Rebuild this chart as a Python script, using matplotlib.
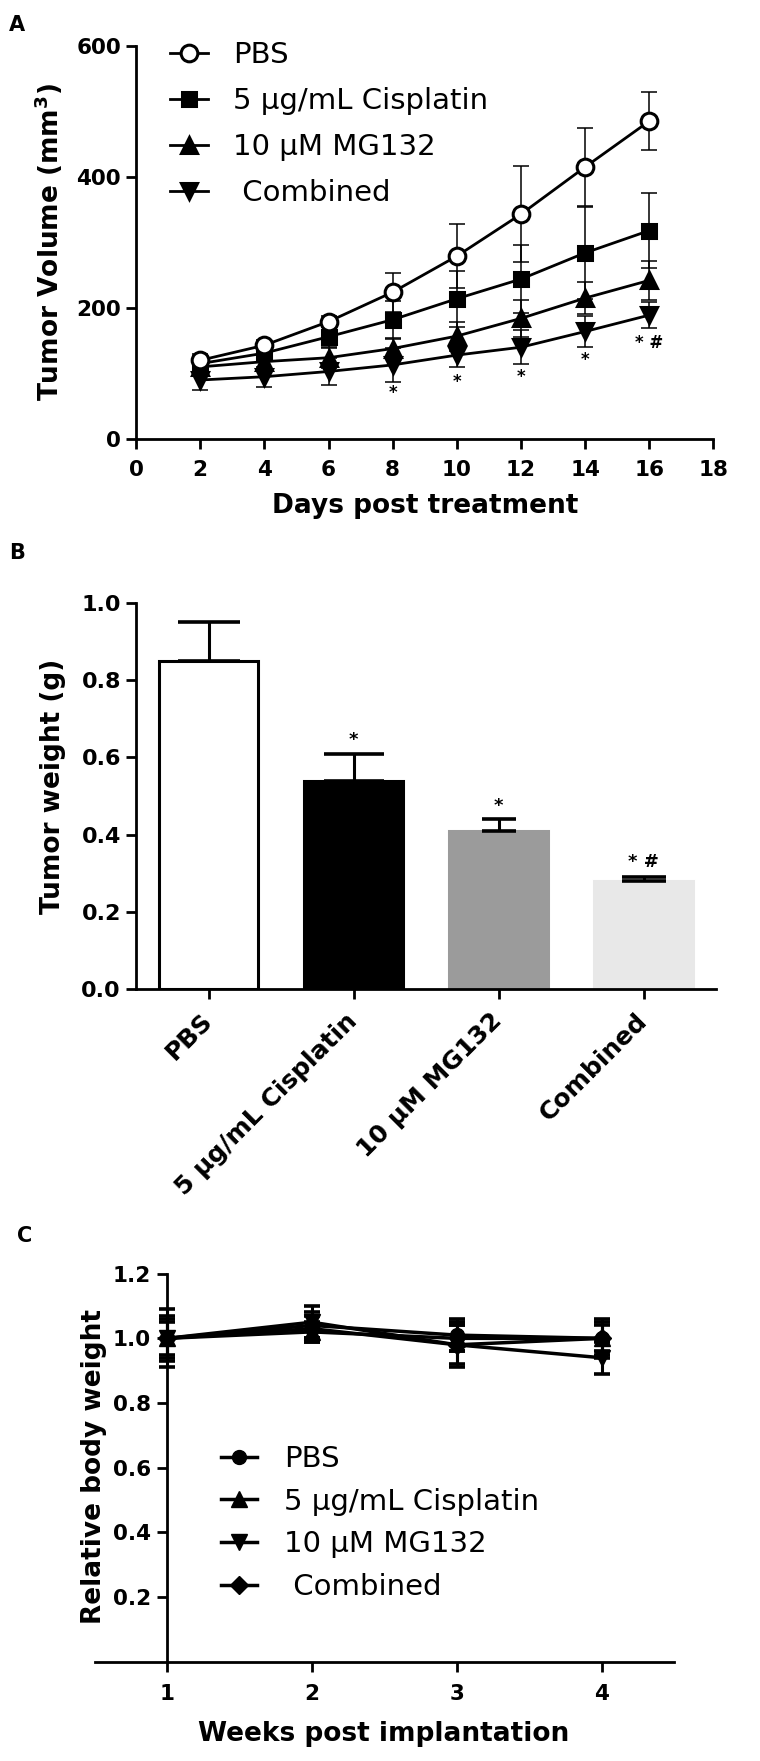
import matplotlib
matplotlib.use("Agg")
import matplotlib.pyplot as plt
from matplotlib.ticker import FormatStrFormatter

# ---------------- data ----------------
days = [2, 4, 6, 8, 10, 12, 14, 16]
groups_legend = ["PBS", "5 µg/mL Cisplatin", "10 µM MG132", " Combined"]
groups_bar = ["PBS", "5 µg/mL Cisplatin", "10 µM MG132", "Combined"]

vol_pbs = [120, 143, 179, 224, 279, 343, 415, 485]
vol_pbs_err = [10, 8, 8, 30, 49, 73, 60, 44]
vol_cis = [115, 131, 156, 182, 214, 244, 284, 318]
vol_cis_err = [12, 12, 15, 28, 43, 52, 70, 57]
vol_mg = [110, 118, 124, 138, 157, 184, 215, 242]
vol_mg_err = [10, 12, 15, 15, 22, 28, 24, 30]
vol_comb = [90, 95, 103, 113, 128, 140, 164, 189]
vol_comb_err = [15, 15, 20, 26, 18, 26, 24, 20]

sig_days = [8, 10, 12, 14, 16]
sig_vol = [70, 87, 95, 120, 147]
sig_text = ["*", "*", "*", "*", "* #"]

weight_vals = [0.85, 0.54, 0.41, 0.28]
weight_err = [0.10, 0.07, 0.03, 0.01]
weight_sig_y = [None, 0.645, 0.474, 0.33]
weight_sig_text = ["", "*", "*", "* #"]

weeks = [1, 2, 3, 4]
bw_pbs = [1.00, 1.04, 1.01, 1.00]
bw_pbs_err = [0.07, 0.04, 0.05, 0.05]
bw_cis = [1.00, 1.02, 1.00, 1.00]
bw_cis_err = [0.05, 0.03, 0.04, 0.04]
bw_mg = [1.00, 1.05, 0.98, 0.94]
bw_mg_err = [0.09, 0.05, 0.07, 0.05]
bw_comb = [1.00, 1.03, 0.98, 1.00]
bw_comb_err = [0.06, 0.04, 0.06, 0.06]

# ---------------- style ----------------
plt.rcParams["font.family"] = ["DejaVu Sans"]
plt.rcParams["font.weight"] = "bold"
plt.rcParams["axes.labelweight"] = "bold"
plt.rcParams["mathtext.fontset"] = "dejavusans"

W, H = 760, 1761
fig = plt.figure(figsize=(W / 100, H / 100), dpi=100)


def rect(x0, y_top, x1, y_bot):
    return [x0 / W, 1 - y_bot / H, (x1 - x0) / W, (y_bot - y_top) / H]


def ftext(x, y, s, **kw):
    fig.text(x / W, 1 - y / H, s, ha="center", va="center", **kw)


def style_axes(ax, ysize=15.5, xsize=15.5):
    for s in ["top", "right"]:
        ax.spines[s].set_visible(False)
    for s in ["left", "bottom"]:
        ax.spines[s].set_linewidth(2)
    ax.tick_params(axis="both", direction="out", length=7.2, width=2, color="black")
    ax.tick_params(axis="y", labelsize=ysize, pad=3.6)
    ax.tick_params(axis="x", labelsize=xsize, pad=8)


LEG_PROP = {"size": 21, "weight": "normal"}

# ---------------- Panel A ----------------
axA = fig.add_axes(rect(136, 45.7, 713.5, 439))
style_axes(axA)
axA.set_xlim(0, 18)
axA.set_ylim(0, 600)
axA.set_xticks(range(0, 19, 2))
axA.set_yticks([0, 200, 400, 600])

series_a = [(vol_pbs, vol_pbs_err), (vol_cis, vol_cis_err),
            (vol_mg, vol_mg_err), (vol_comb, vol_comb_err)]
markers_a = ["o", "s", "^", "v"]
msizes_a = [12, 10.5, 11, 11]
handles_a = []
for i, ((vals, errs), m) in enumerate(zip(series_a, markers_a)):
    axA.errorbar(days, vals, yerr=errs, fmt="none", ecolor="black",
                 elinewidth=1.1, capsize=6, capthick=1.1, zorder=2)
    ln, = axA.plot(days, vals, color="black", lw=2, marker=m, ms=msizes_a[i],
                   mfc="white" if i == 0 else "black", mec="black", mew=2.2,
                   zorder=6 - i, clip_on=False)
    handles_a.append(ln)
for d, v, t in zip(sig_days, sig_vol, sig_text):
    axA.text(d, v, t, ha="center", va="center", fontsize=12, fontweight="bold")

axA.legend(handles_a, groups_legend, loc="upper left",
           bbox_to_anchor=((170 - 136) / 577.5, (439 - 41) / 393.3),
           frameon=False, borderpad=0, borderaxespad=0, handlelength=1.3,
           handletextpad=0.85, labelspacing=0.62, prop=LEG_PROP)

ftext(48.5, 242, r"Tumor Volume (mm$^{\mathbf{3}}$)", rotation=90,
      fontsize=19, fontweight="bold")
ftext(425, 506, "Days post treatment", fontsize=19, fontweight="bold")
ftext(17, 25, "A", fontsize=15, fontweight="bold")

# ---------------- Panel B ----------------
axB = fig.add_axes(rect(136, 603, 716, 989))
style_axes(axB, ysize=16)
axB.set_xlim(-0.5, 3.5)
axB.set_ylim(0, 1.0)
axB.set_yticks([0, 0.2, 0.4, 0.6, 0.8, 1.0])
axB.yaxis.set_major_formatter(FormatStrFormatter("%.1f"))
xb = list(range(len(groups_bar)))
bar_colors = ["white", "black", "#9b9b9b", "#e8e8e8"]
edge_colors = ["black", "black", "#9b9b9b", "#e8e8e8"]
axB.bar(xb, weight_vals, width=0.68, color=bar_colors, edgecolor=edge_colors,
        linewidth=2.2, zorder=2)
caps_b = [22.5, 21.5, 12, 16]
for i in xb:
    axB.errorbar(xb[i], weight_vals[i], yerr=[[0], [weight_err[i]]], fmt="none",
                 ecolor="black", elinewidth=2.2, capsize=caps_b[i], capthick=2.6,
                 zorder=3)
    if weight_sig_y[i] is not None:
        axB.text(xb[i], weight_sig_y[i], weight_sig_text[i], ha="center",
                 va="center", fontsize=13, fontweight="bold")
axB.set_xticks(xb)
axB.set_xticklabels(groups_bar, fontsize=18, fontweight="bold")
for lab in axB.get_xticklabels():
    lab.set_rotation(45)
    lab.set_ha("right")
    lab.set_va("center")
    lab.set_rotation_mode("anchor")
axB.tick_params(axis="x", pad=13)

ftext(53, 786, "Tumor weight (g)", rotation=90, fontsize=19, fontweight="bold")
ftext(17, 553, "B", fontsize=15, fontweight="bold")

# ---------------- Panel C ----------------
axC = fig.add_axes(rect(94.5, 1273.7, 674, 1661.6))
style_axes(axC)
axC.spines["left"].set_position(("data", 1))
axC.set_xlim(0.5, 4.5)
axC.set_ylim(0, 1.2)
axC.set_xticks(weeks)
axC.set_yticks([0.2, 0.4, 0.6, 0.8, 1.0, 1.2])
axC.yaxis.set_major_formatter(FormatStrFormatter("%.1f"))
axC.tick_params(axis="x", pad=9)
axC.tick_params(axis="y", pad=4.3)

series_c = [(bw_pbs, bw_pbs_err), (bw_cis, bw_cis_err),
            (bw_mg, bw_mg_err), (bw_comb, bw_comb_err)]
markers_c = ["o", "^", "v", "D"]
msizes_c = [10, 11, 11, 9]
handles_c = []
for i, ((vals, errs), m) in enumerate(zip(series_c, markers_c)):
    axC.errorbar(weeks, vals, yerr=errs, fmt="none", ecolor="black",
                 elinewidth=2.2, capsize=5.5, capthick=2.6, zorder=2)
    ln, = axC.plot(weeks, vals, color="black", lw=2.5, marker=m, ms=msizes_c[i],
                   mfc="black", mec="black", zorder=4, clip_on=False)
    handles_c.append(ln)

axC.legend(handles_c, groups_legend, loc="upper left",
           bbox_to_anchor=((221 - 94.5) / 579.5, (1661.6 - 1445) / 387.9),
           frameon=False, borderpad=0, borderaxespad=0, handlelength=1.25,
           handletextpad=0.9, labelspacing=0.5, prop=LEG_PROP)

ftext(94.5, 1466.5, "Relative body weight", rotation=90, fontsize=19,
      fontweight="bold")
ftext(384, 1734, "Weeks post implantation", fontsize=19, fontweight="bold")
ftext(25, 1236, "C", fontsize=15, fontweight="bold")

fig.savefig("out.png", dpi=100, facecolor="white")
